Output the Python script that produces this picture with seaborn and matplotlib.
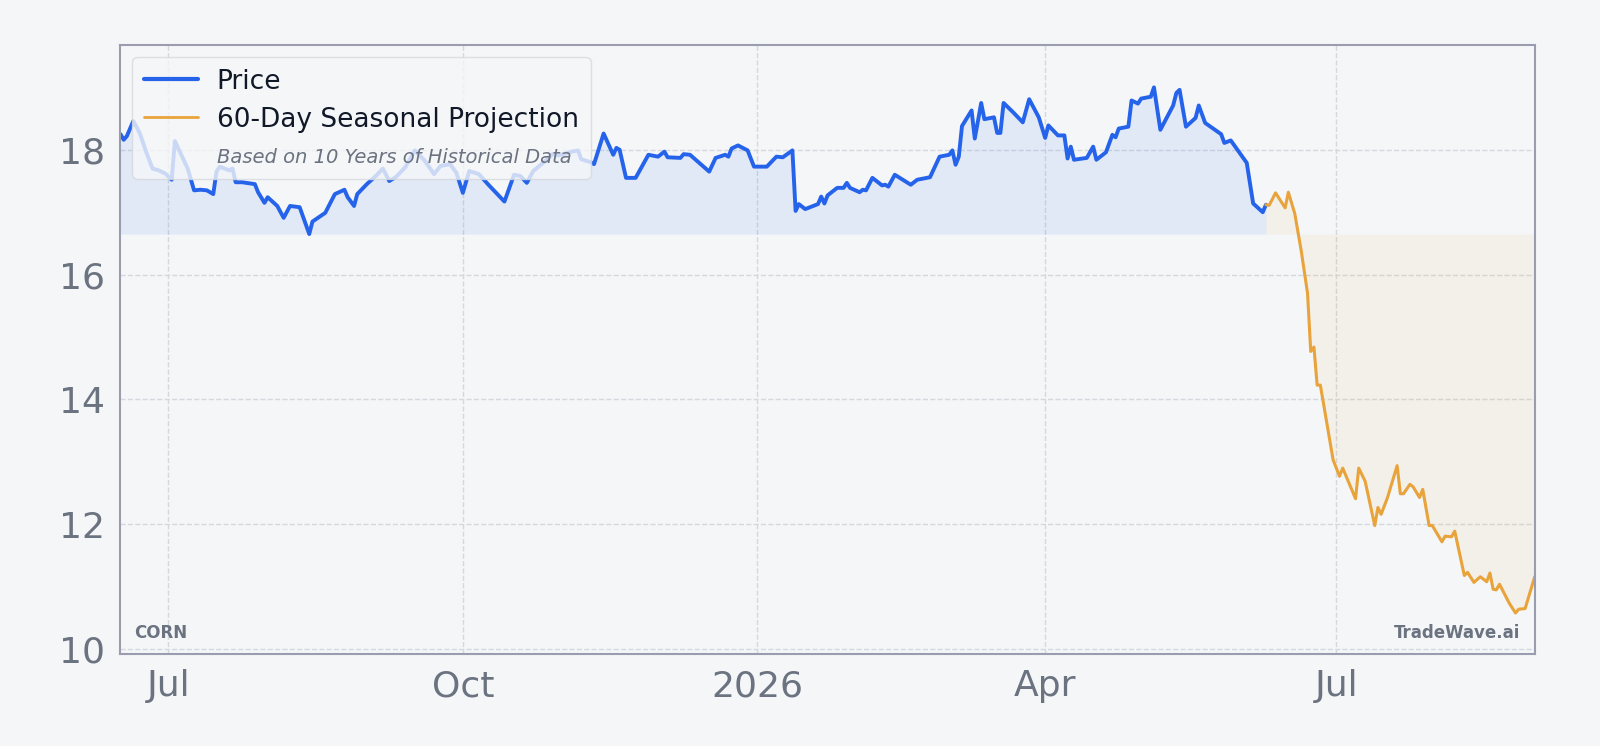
import pandas as pd
import matplotlib
matplotlib.use("Agg")
import matplotlib.pyplot as plt
import matplotlib.dates as mdates
import matplotlib.ticker as mticker
from matplotlib.lines import Line2D
import seaborn as sns

# Data (days counted from the first session)
start = pd.Timestamp("2025-06-16")
ticker = "CORN"

price_days = [0, 1, 2, 4, 6, 8, 10, 12, 14, 16, 17, 19, 21, 23, 25, 27, 29, 30, 31, 34,
              35, 36, 38, 42, 43, 45, 46, 49, 51, 53, 56, 59, 60, 62, 64, 67, 70, 71, 73, 74,
              77, 80, 82, 84, 86, 89, 92, 95, 98, 100, 103, 105, 107, 109, 112, 115, 120, 123, 125, 127,
              129, 133, 135, 137, 141, 143, 144, 147, 148, 151, 154, 155, 156, 158, 161, 165, 168, 170, 171, 175,
              176, 178, 184, 186, 189, 190, 191, 193, 196, 198, 202, 205, 207, 210, 211, 212, 214, 218, 219, 220,
              221, 224, 226, 227, 228, 231, 232, 233, 235, 238, 239, 240, 242, 247, 249, 253, 256, 259, 260, 261,
              262, 263, 266, 267, 269, 270, 273, 274, 275, 276, 279, 282, 284, 287, 289, 290, 293, 295, 296, 297,
              298, 302, 304, 305, 308, 310, 311, 312, 315, 316, 318, 319, 322, 323, 325, 329, 330, 331, 333, 336,
              337, 339, 344, 345, 347, 352, 354, 357, 358]
price_vals = [18.25, 18.16, 18.22, 18.46, 18.27, 17.97, 17.70, 17.67, 17.62, 17.52, 18.14, 17.92, 17.70, 17.35, 17.36, 17.35, 17.29, 17.65, 17.73, 17.67,
              17.70, 17.48, 17.48, 17.45, 17.32, 17.15, 17.24, 17.10, 16.91, 17.10, 17.08, 16.65, 16.85, 16.92, 16.99, 17.29, 17.36, 17.24, 17.10, 17.29,
              17.45, 17.59, 17.70, 17.50, 17.56, 17.72, 17.99, 17.83, 17.61, 17.74, 17.77, 17.63, 17.31, 17.66, 17.61, 17.44, 17.17, 17.60, 17.58, 17.47,
              17.66, 17.83, 17.93, 17.91, 17.97, 17.99, 17.85, 17.80, 17.77, 18.26, 17.92, 18.03, 18.00, 17.55, 17.55, 17.92, 17.89, 17.97, 17.88, 17.87,
              17.93, 17.92, 17.65, 17.87, 17.92, 17.89, 18.02, 18.07, 17.99, 17.73, 17.73, 17.89, 17.88, 17.99, 17.02, 17.13, 17.05, 17.13, 17.25, 17.14,
              17.27, 17.39, 17.39, 17.47, 17.39, 17.32, 17.36, 17.35, 17.55, 17.43, 17.44, 17.41, 17.60, 17.44, 17.52, 17.56, 17.89, 17.92, 17.99, 17.76,
              17.89, 18.38, 18.63, 18.18, 18.75, 18.49, 18.52, 18.27, 18.27, 18.75, 18.60, 18.44, 18.81, 18.52, 18.19, 18.39, 18.23, 18.23, 17.86, 18.05,
              17.84, 17.87, 18.05, 17.84, 17.96, 18.24, 18.20, 18.34, 18.37, 18.79, 18.74, 18.82, 18.85, 19.00, 18.32, 18.71, 18.91, 18.96, 18.37, 18.51,
              18.71, 18.43, 18.25, 18.11, 18.15, 17.79, 17.14, 17.00, 17.12]

proj_days = [358, 359, 361, 364, 365, 367, 369, 371, 372, 373, 374, 375, 379, 381, 382, 386, 387, 389, 392, 393,
             394, 396, 399, 400, 401, 403, 404, 406, 407, 409, 410, 413, 414, 416, 417, 420, 421, 423, 425, 427,
             428, 429, 430, 431, 434, 436, 437, 439, 442]
proj_vals = [17.12, 17.11, 17.31, 17.07, 17.32, 16.98, 16.39, 15.70, 14.77, 14.84, 14.23, 14.23, 13.03, 12.77, 12.90, 12.41, 12.90, 12.69, 11.98, 12.27,
             12.16, 12.43, 12.94, 12.49, 12.49, 12.64, 12.60, 12.43, 12.56, 11.98, 11.98, 11.72, 11.81, 11.80, 11.89, 11.18, 11.23, 11.07, 11.16, 11.08,
             11.22, 10.96, 10.95, 11.04, 10.74, 10.58, 10.64, 10.65, 11.16]

price = pd.DataFrame({"date": start + pd.to_timedelta(price_days, unit="D"), "value": price_vals})
proj = pd.DataFrame({"date": start + pd.to_timedelta(proj_days, unit="D"), "value": proj_vals})

bg = "#f4f6f8"
blue = "#2563eb"
orange = "#e8a33a"
grey = "#6b7280"

sns.set_style("white")
plt.rcParams["font.family"] = ["DejaVu Sans"]

fig, ax = plt.subplots(figsize=(16, 7.46), dpi=100)
fig.patch.set_facecolor(bg)
ax.set_facecolor(bg)
fig.subplots_adjust(left=0.0753, right=0.9592, top=0.9398, bottom=0.1231)

base = min(price_vals)
ax.fill_between(price["date"], price["value"], base, color=blue, alpha=0.09, lw=0)
ax.fill_between(proj["date"], proj["value"], base, color=orange, alpha=0.08, lw=0)
sns.lineplot(data=price, x="date", y="value", ax=ax, color=blue, lw=2.8)
sns.lineplot(data=proj, x="date", y="value", ax=ax, color=orange, lw=2.2)

ax.set_xlim(price["date"].iloc[0], proj["date"].iloc[-1])
ax.set_ylim(9.92, 19.68)
ax.set_xlabel("")
ax.set_ylabel("")

ax.yaxis.set_major_locator(mticker.MultipleLocator(2))
ax.xaxis.set_major_locator(mdates.MonthLocator(bymonth=[1, 4, 7, 10]))
ax.xaxis.set_major_formatter(mticker.FuncFormatter(
    lambda x, pos: mdates.num2date(x).strftime("%Y" if mdates.num2date(x).month == 1 else "%b")))
ax.tick_params(axis="both", labelsize=26, colors="#9ca3af", labelcolor=grey,
               length=5, width=1, pad=6)

ax.grid(True, ls="--", color="#d5d8dd", lw=1)
for s in ax.spines.values():
    s.set_color("#9a9db0")
    s.set_linewidth(1.5)

handles = [Line2D([], [], color=blue, lw=3),
           Line2D([], [], color=orange, lw=2),
           Line2D([], [], color="none")]
labels = ["Price", "60-Day Seasonal Projection", "Based on 10 Years of Historical Data"]
leg = ax.legend(handles, labels, loc="upper left", fontsize=19, handlelength=2.05,
                handletextpad=0.7, frameon=True, facecolor=bg, edgecolor="#d5d8dd",
                framealpha=0.8, labelspacing=0.45, borderpad=0.45, borderaxespad=0.45)
for t in leg.get_texts()[:2]:
    t.set_color("#111827")
sub = leg.get_texts()[2]
sub.set_fontsize(14)
sub.set_style("italic")
sub.set_color(grey)

ax.text(0.01, 0.02, ticker, transform=ax.transAxes, fontsize=12, fontweight="bold",
        color=grey, ha="left", va="bottom")
ax.text(0.99, 0.02, "TradeWave.ai", transform=ax.transAxes, fontsize=12, fontweight="bold",
        color=grey, ha="right", va="bottom")

fig.savefig("out.png", dpi=100, facecolor=bg)
